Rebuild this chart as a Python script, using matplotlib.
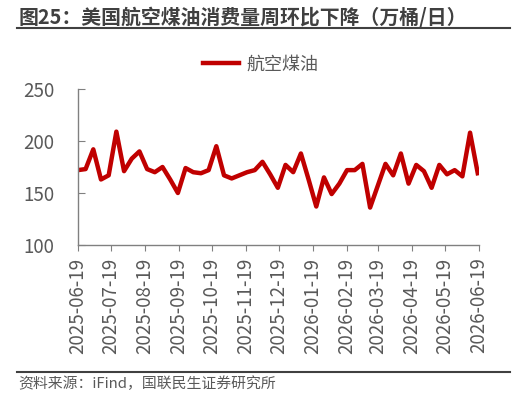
import numpy as np
import pandas as pd
import matplotlib
matplotlib.use("Agg")
import matplotlib.pyplot as plt
import matplotlib.dates as mdates
from matplotlib.lines import Line2D

plt.rcParams['font.family'] = ['Noto Sans CJK SC', 'DejaVu Sans']

# weekly US jet fuel consumption (10k bbl/day)
start_date = "2025-06-19"
jet_fuel = [172, 173, 192, 163, 167, 209, 171, 183, 190, 173, 170, 175, 163, 150,
            174, 170, 169, 172, 195, 167, 164, 167, 170, 172, 180, 168, 155,
            177, 170, 188, 163, 137, 165, 149, 159, 172, 172, 178, 136, 157,
            178, 167, 188, 159, 177, 171, 155, 177, 168, 172, 166, 208, 169]
dates = pd.date_range(start_date, periods=len(jet_fuel), freq="7D")
tick_dates = pd.date_range("2025-06-01", "2026-06-01", freq="MS") + pd.Timedelta(days=18)
y_ticks = [100, 150, 200, 250]

title = "图25：美国航空煤油消费量周环比下降（万桶/日）"
source = "资料来源：iFind，国联民生证券研究所"
series_name = "航空煤油"

red = "#C00000"
grey = "#595959"

fig = plt.figure(figsize=(5.16, 4.0), dpi=100)
ax = fig.add_axes([0.151, 0.3875, 0.777, 0.39])

ax.plot(dates, jet_fuel, color=red, lw=3.2, label=series_name)

ax.set_ylim(100, 250)
ax.set_yticks(y_ticks)
ax.set_xlim(pd.Timestamp("2025-06-19"), pd.Timestamp("2026-06-19"))
ax.set_xticks(tick_dates)
ax.xaxis.set_major_formatter(mdates.DateFormatter("%Y-%m-%d"))
for lbl in ax.get_xticklabels():
    lbl.set_rotation(90)

for s in ["top", "right"]:
    ax.spines[s].set_visible(False)
for s in ["left", "bottom"]:
    ax.spines[s].set_color("#808080")
    ax.spines[s].set_linewidth(1)
ax.tick_params(axis="y", direction="in", length=5, colors="#808080", labelcolor=grey, labelsize=13.5, pad=17)
ax.tick_params(axis="x", direction="out", length=4, colors="#808080", labelcolor=grey, labelsize=13.5, pad=5)

ax.legend(loc="lower center", bbox_to_anchor=(0.456, 0.995), frameon=False, fontsize=13,
          labelcolor=grey, handlelength=2.0, handletextpad=0.4)

fig.text(0.035, 0.958, title, fontsize=14.3, fontweight="bold", color="#404040", va="center", ha="left")
fig.add_artist(Line2D([0.033, 0.988], [0.931, 0.931], color="#404040", lw=1.5))
fig.add_artist(Line2D([0.033, 0.988], [0.07, 0.07], color="#404040", lw=1.5))
fig.text(0.035, 0.04, source, fontsize=10.7, color=grey, va="center", ha="left")

fig.savefig("out.png", dpi=100)
